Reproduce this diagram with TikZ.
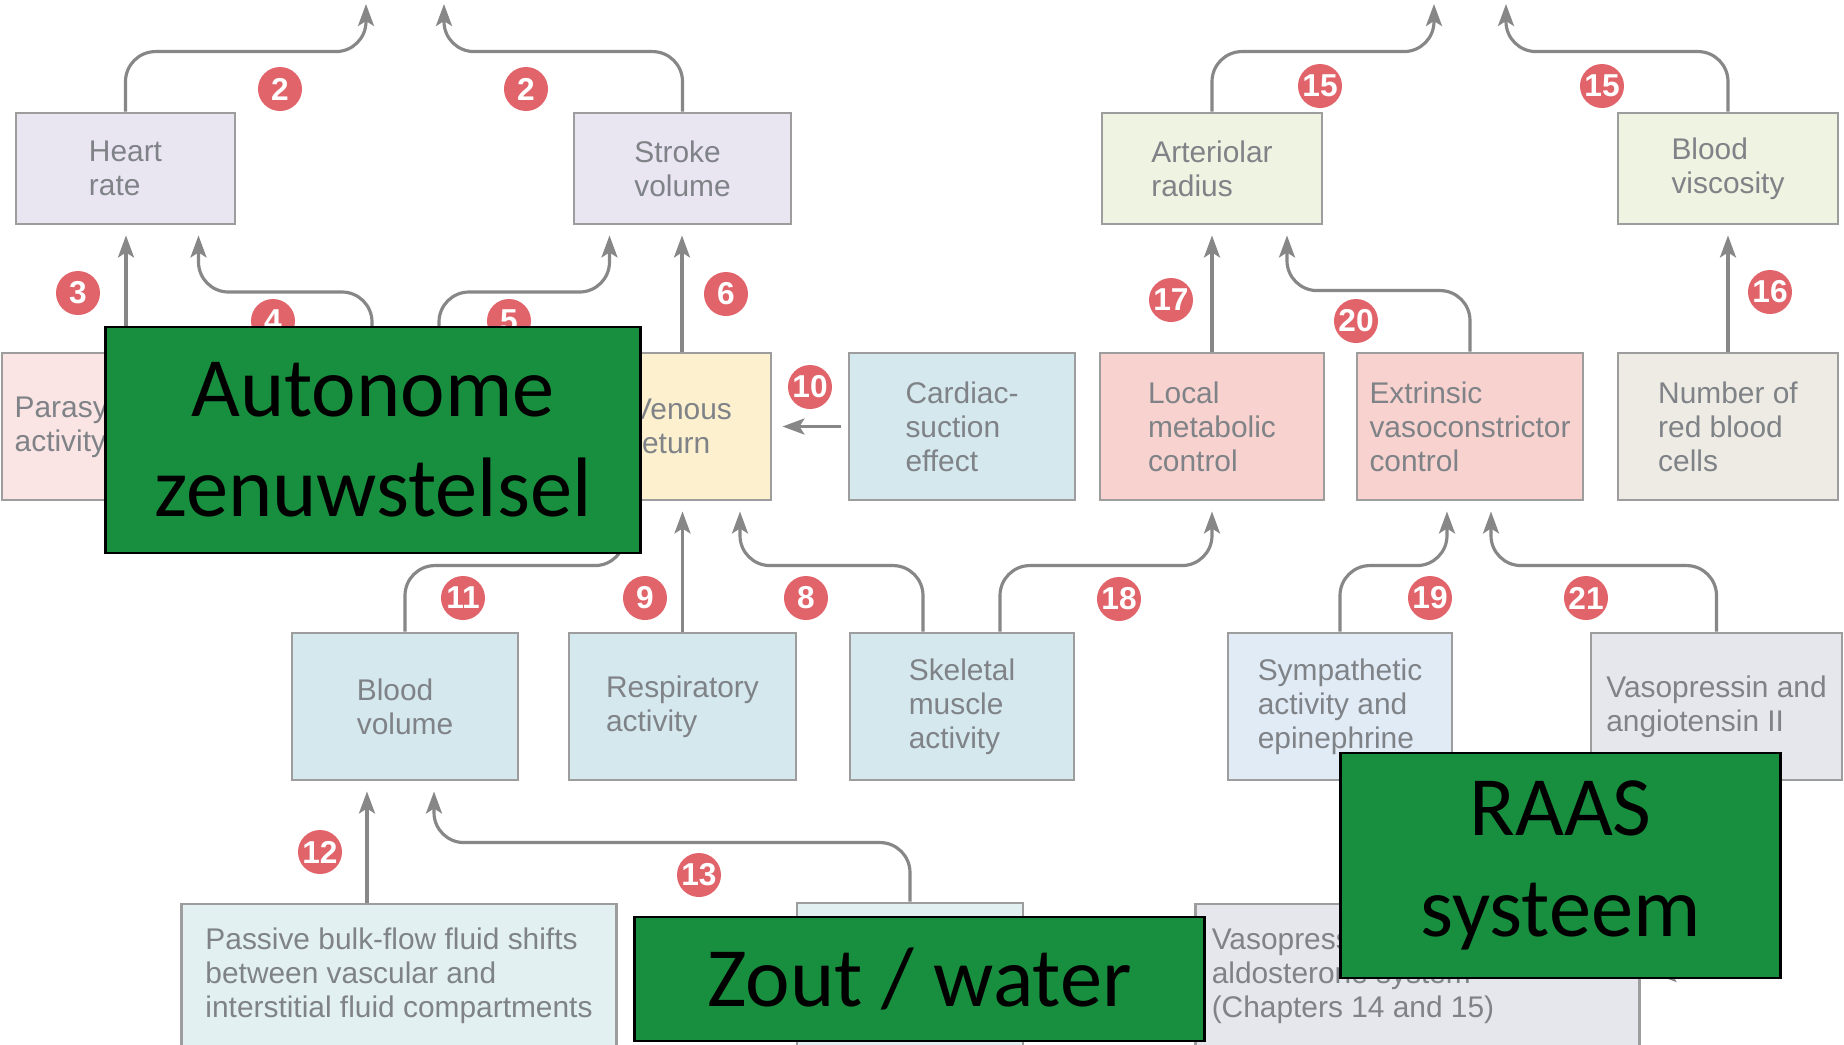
\documentclass[tikz,border=0pt]{standalone}
\usepackage{fontspec}
\usetikzlibrary{arrows.meta,calc}
\newfontfamily\figfont{Liberation Sans}
\newfontfamily\slidefont{Carlito}

\definecolor{lavbox}{HTML}{E9E6F2}
\definecolor{grnbox}{HTML}{EEF3E2}
\definecolor{pinkbox}{HTML}{F8D2CF}
\definecolor{palepink}{HTML}{FBE4E4}
\definecolor{yelbox}{HTML}{FCF0CE}
\definecolor{bluebox}{HTML}{D4E8ED}
\definecolor{paleblue}{HTML}{E2F0F2}
\definecolor{symblue}{HTML}{E1EBF5}
\definecolor{greybox}{HTML}{E6E7EC}
\definecolor{beigebox}{HTML}{EDEBE3}
\definecolor{boxline}{HTML}{9D9D9D}
\definecolor{arrowgrey}{HTML}{878787}
\definecolor{labeltext}{HTML}{7F8387}
\definecolor{badgered}{HTML}{E2646B}
\definecolor{slidegreen}{HTML}{188F3E}

\tikzset{
  box/.style={draw=boxline, line width=0.8pt, align=left, inner sep=0pt,
    text=labeltext, font=\figfont\fontsize{8.5}{9.7}\selectfont},
  flow/.style={draw=arrowgrey, line width=0.9pt, rounded corners=3mm,
    -{Stealth[length=2.2mm,width=1.6mm,inset=0.5mm]}, shorten >=1mm},
  badge/.style={circle, fill=badgered, text=white, inner sep=0pt,
    minimum size=4.4mm, font=\figfont\bfseries\fontsize{9}{9}\selectfont},
  tag/.style={draw=black, line width=0.8pt, fill=slidegreen, align=center,
    font=\slidefont\fontsize{24}{28.5}\selectfont},
}

\begin{document}
\begin{tikzpicture}[x=0.01cm, y=-0.01cm]
        \useasboundingbox (0,0) rectangle (1844,1044);
        \clip (0,0) rectangle (1844,1044);
        \fill[white] (0,0) rectangle (1844,1044);

        % Row 1
        \node[box, fill=lavbox, minimum width=2.19cm, minimum height=1.11cm] (hr) at (125.5,168.5) {Heart\\rate};
        \node[box, fill=lavbox, minimum width=2.17cm, minimum height=1.11cm] (sv) at (682.5,168.5) {Stroke\\volume};
        \node[box, fill=grnbox, minimum width=2.2cm, minimum height=1.11cm] (ar) at (1212,168.5) {Arteriolar\\radius};
        \node[box, fill=grnbox, minimum width=2.2cm, minimum height=1.11cm] (visc) at (1728,168.5) {Blood\\viscosity};

        % Row 2
        \node[box, fill=palepink, minimum width=2.48cm, minimum height=1.47cm] (ps) at (126,426.5) {Parasympathetic\\activity};
        \node[box, fill=yelbox, minimum width=1.78cm, minimum height=1.47cm] (vr) at (682,426.5) {Venous\\return};
        \node[box, fill=bluebox, minimum width=2.26cm, minimum height=1.47cm] (cs) at (962,426.5) {Cardiac-\\suction\\effect};
        \node[box, fill=pinkbox, minimum width=2.24cm, minimum height=1.47cm] (lm) at (1212,426.5) {Local\\metabolic\\control};
        \node[box, fill=pinkbox, minimum width=2.26cm, minimum height=1.47cm] (ev) at (1470,426.5) {Extrinsic\\vasoconstrictor\\control};
        \node[box, fill=beigebox, minimum width=2.2cm, minimum height=1.47cm] (rbc) at (1728,426.5) {Number of\\red blood\\cells};

        % Row 3
        \node[box, fill=bluebox, minimum width=2.26cm, minimum height=1.47cm] (bvol) at (405,706.5) {Blood\\volume};
        \node[box, fill=bluebox, minimum width=2.27cm, minimum height=1.47cm] (resp) at (682.5,706.5) {Respiratory\\activity};
        \node[box, fill=bluebox, minimum width=2.24cm, minimum height=1.47cm] (sk) at (962,706.5) {Skeletal\\muscle\\activity};
        \node[box, fill=symblue, minimum width=2.24cm, minimum height=1.47cm] (sym) at (1340,706.5) {Sympathetic\\activity and\\epinephrine};
        \node[box, fill=greybox, minimum width=2.51cm, minimum height=1.47cm] (vaso) at (1716.5,706.5) {Vasopressin and\\angiotensin II};

        % Row 4
        \node[box, fill=paleblue, minimum width=4.34cm, minimum height=1.44cm] (pb) at (399,976) {Passive bulk-flow fluid shifts\\between vascular and\\interstitial fluid compartments};
        \node[box, fill=paleblue, minimum width=2.26cm, minimum height=1.46cm] (hid) at (910,976) {};
        \node[box, fill=greybox, minimum width=4.43cm, minimum height=1.44cm] (rs) at (1417.5,976) {Vasopressin-renin-angiotensin-\\aldosterone system\\(Chapters 14 and 15)};

        % Arrows out of the top
        \coordinate (outA) at (366,4);
        \coordinate (outB) at (444,4);
        \coordinate (outC) at (1434,4);
        \coordinate (outD) at (1506,4);
        \draw[flow, shorten >=0pt] (hr.north) -- ++(0,-60) -| (outA);
        \draw[flow, shorten >=0pt] (sv.north) -- ++(0,-60) -| (outB);
        \draw[flow, shorten >=0pt] (ar.north) -- ++(0,-60) -| (outC);
        \draw[flow, shorten >=0pt] (visc.north) -- ++(0,-60) -| (outD);

        % Row 2 to row 1
        \coordinate (symA) at (372,420);
        \coordinate (symB) at (439,420);
        \draw[flow] (ps.north) -- (ps.north |- hr.south);
        \draw[flow] (symA) -- ++(0,-128) -| ($(hr.south)+(73,0)$);
        \draw[flow] (symB) -- ++(0,-128) -| ($(sv.south)+(-73,0)$);
        \draw[flow] (vr.north) -- (vr.north |- sv.south);
        \draw[flow, shorten <=0.7mm] (cs.west) -- (vr.east);
        \draw[flow] (lm.north) -- (lm.north |- ar.south);
        \draw[flow] (ev.north) -- ++(0,-61) -| ($(ar.south)+(75,0)$);
        \draw[flow] (rbc.north) -- (rbc.north |- visc.south);

        % Row 3 to row 2
        \coordinate (skA) at ($(sk.north)+(-39,0)$);
        \coordinate (skB) at ($(sk.north)+(38,0)$);
        \draw[flow] (bvol.north) -- ++(0,-66) -| ($(vr.south)+(-57,0)$);
        \draw[flow] (resp.north) -- (resp.north |- vr.south);
        \draw[flow] (skA) -- ++(0,-66) -| ($(vr.south)+(58,0)$);
        \draw[flow] (skB) -- ++(0,-66) -| (lm.south);
        \draw[flow] (sym.north) -- ++(0,-66) -| ($(ev.south)+(-23,0)$);
        \draw[flow] (vaso.north) -- ++(0,-66) -| ($(ev.south)+(21,0)$);

        % Row 4 to row 3
        \coordinate (pbA) at ($(pb.north)+(-32,0)$);
        \coordinate (rsin) at (1770,974);
        \draw[flow] (pbA) -- (pbA |- bvol.south);
        \draw[flow] (hid.north) -- ++(0,-59) -| ($(bvol.south)+(29,0)$);
        \draw[flow, shorten >=1.4mm] (rsin) -- (rsin -| rs.east);

        % Numbered badges
        \node[badge] (n2a) at (280,89) {2};
        \node[badge] (n2b) at (526,89) {2};
        \node[badge] (n15a) at (1320,86) {15};
        \node[badge] (n15b) at (1602,86) {15};
        \node[badge] (n3) at (78,293) {3};
        \node[badge] (n4) at (273,321) {4};
        \node[badge] (n5) at (509,321) {5};
        \node[badge] (n6) at (726,294) {6};
        \node[badge] (n17) at (1171,300) {17};
        \node[badge] (n20) at (1356,321) {20};
        \node[badge] (n16) at (1770,292) {16};
        \node[badge] (n10) at (810,387) {10};
        \node[badge] (n11) at (463,598) {11};
        \node[badge] (n9) at (645,598) {9};
        \node[badge] (n8) at (806,598) {8};
        \node[badge] (n18) at (1119,599) {18};
        \node[badge] (n19) at (1430,598) {19};
        \node[badge] (n21) at (1586,598) {21};
        \node[badge] (n12) at (320,852) {12};
        \node[badge] (n13) at (699,875) {13};

        % Green labels on top
        \node[tag, minimum width=5.34cm, minimum height=2.26cm] (ans) at (373,440) {Autonome\\zenuwstelsel};
        \node[tag, minimum width=5.69cm, minimum height=1.24cm] (salt) at (919.5,979) {Zout / water};
        \node[tag, minimum width=4.39cm, minimum height=2.25cm] (raas) at (1560.5,865.5) {RAAS\\systeem};
    \end{tikzpicture}
\end{document}
